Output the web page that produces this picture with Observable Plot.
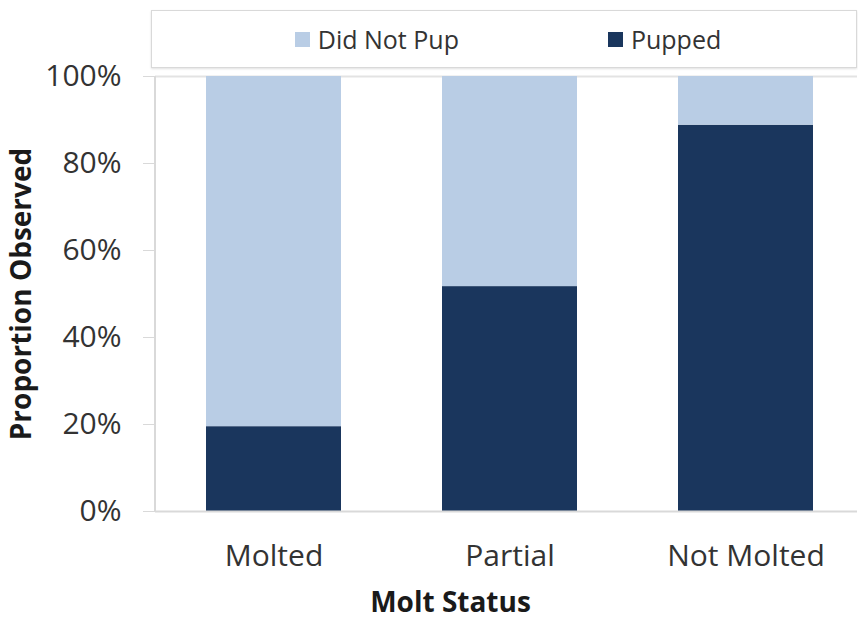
<!DOCTYPE html>
<html>
<head>
<meta charset="utf-8">
<script src="https://cdn.jsdelivr.net/npm/d3@7"></script>
<script src="https://cdn.jsdelivr.net/npm/@observablehq/plot@0.6"></script>
<style>
  body { margin: 0; background: #fff; }
  #wrap { position: relative; width: 858px; height: 623px; font-family: "Open Sans", sans-serif; overflow: hidden; }
  #legend { position: absolute; left: 151px; top: 10px; width: 706px; height: 58px;
    border: 1px solid #d9d9d9; box-shadow: 0 1px 2px rgba(0,0,0,0.12); background: #fff;
    display: flex; align-items: center; justify-content: center; gap: 149px; padding-left: 8px; box-sizing: border-box; }
  .item { display: flex; align-items: center; font-size: 25px; color: #333; }
  .sw { width: 15px; height: 15px; margin-right: 8px; }
</style>
</head>
<body>
<div id="wrap"><div id="legend"></div></div>
<script>
const categories = ["Molted", "Partial", "Not Molted"];
const series = ["Did Not Pup", "Pupped"];
const pupped = [0.195, 0.517, 0.888];
const didNotPup = [0.805, 0.483, 0.112];
const colors = ["#b9cde5", "#1a365d"];
const yTicks = [0, 0.2, 0.4, 0.6, 0.8, 1];

const data = [];
categories.forEach((c, i) => {
  data.push({cat: c, series: "Pupped", value: pupped[i]});
  data.push({cat: c, series: "Did Not Pup", value: didNotPup[i]});
});

const axisLine = (index, scales, values, dims) => {
  const line = document.createElementNS("http://www.w3.org/2000/svg", "line");
  line.setAttribute("x1", dims.marginLeft);
  line.setAttribute("x2", dims.marginLeft);
  line.setAttribute("y1", scales.y(0));
  line.setAttribute("y2", scales.y(1));
  line.setAttribute("stroke", "#d9d9d9");
  line.setAttribute("stroke-width", 2);
  return line;
};

const chart = Plot.plot({
  width: 858,
  height: 623,
  marginLeft: 155,
  marginRight: 1,
  marginTop: 76,
  marginBottom: 112,
  style: {fontFamily: "Open Sans, sans-serif", fontSize: "30px", color: "#333", background: "transparent", overflow: "visible"},
  x: {domain: categories, range: [155, 864], paddingInner: 0.43, paddingOuter: 0.215, label: null},
  y: {domain: [0, 1], label: null},
  color: {domain: series, range: colors},
  marks: [
    Plot.ruleY([1], {stroke: "#e3e3e3", strokeWidth: 2}),
    Plot.barY(data, {x: "cat", y: "value", fill: "series", order: ["Pupped", "Did Not Pup"]}),
    Plot.ruleY([0], {stroke: "#d9d9d9", strokeWidth: 2}),
    axisLine,
    Plot.axisY({ticks: yTicks, tickFormat: d => Math.round(d * 100) + "%", tickSize: 12, tickPadding: 22, stroke: "#d9d9d9", fill: "#333", label: null}),
    Plot.axisX({tickSize: 0, tickPadding: 33, fill: "#333", label: null}),
    Plot.text(["Proportion Observed"], {frameAnchor: "left", textAnchor: "middle", dx: -133, rotate: -90, fontWeight: "bold", fontSize: 28, fill: "#1a1a1a"}),
    Plot.text(["Molt Status"], {frameAnchor: "bottom", textAnchor: "middle", dx: -56, dy: 100, fontWeight: "bold", fontSize: 28, fill: "#1a1a1a"})
  ]
});
document.getElementById("wrap").appendChild(chart);

const legend = document.getElementById("legend");
series.forEach((s, i) => {
  const it = document.createElement("div");
  it.className = "item";
  const sw = document.createElement("span");
  sw.className = "sw";
  sw.style.background = colors[i];
  it.appendChild(sw);
  it.appendChild(document.createTextNode(s));
  legend.appendChild(it);
});
</script>
</body>
</html>
